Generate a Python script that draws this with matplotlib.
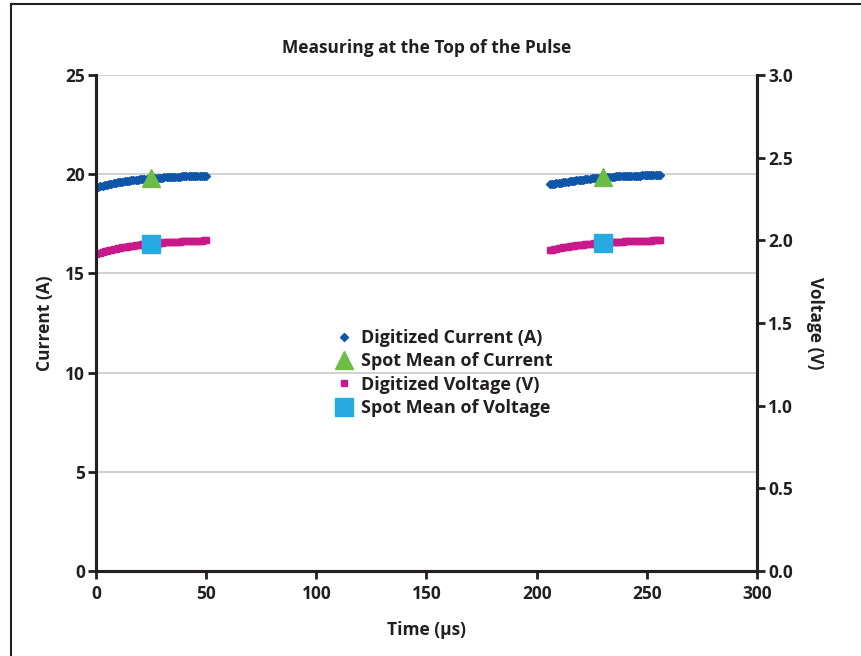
import matplotlib
matplotlib.use("Agg")
import matplotlib.pyplot as plt
from matplotlib.lines import Line2D
from matplotlib.ticker import FormatStrFormatter

plt.rcParams['font.family'] = ['Open Sans', 'DejaVu Sans']
plt.rcParams['font.weight'] = 'bold'

# time axis of the two captured pulses (us)
t1 = list(range(0, 51))
t2 = list(range(206, 257))

# digitized current (A), first and second pulse
cur1 = [19.30, 19.34, 19.38, 19.41, 19.44, 19.47, 19.50, 19.52, 19.55, 19.57,
        19.59, 19.61, 19.63, 19.65, 19.66, 19.68, 19.69, 19.71, 19.72, 19.73,
        19.74, 19.75, 19.76, 19.77, 19.78, 19.79, 19.80, 19.81, 19.82, 19.82,
        19.83, 19.84, 19.85, 19.85, 19.86, 19.87, 19.87, 19.88, 19.88, 19.89,
        19.89, 19.90, 19.90, 19.91, 19.91, 19.92, 19.92, 19.92, 19.93, 19.93,
        19.93]
cur2 = [19.49, 19.51, 19.53, 19.55, 19.56, 19.58, 19.60, 19.62, 19.63, 19.65,
        19.66, 19.68, 19.69, 19.71, 19.72, 19.73, 19.75, 19.76, 19.77, 19.79,
        19.80, 19.81, 19.82, 19.83, 19.84, 19.85, 19.86, 19.87, 19.87, 19.88,
        19.89, 19.89, 19.90, 19.90, 19.91, 19.91, 19.92, 19.92, 19.92, 19.93,
        19.93, 19.93, 19.94, 19.94, 19.94, 19.94, 19.95, 19.95, 19.95, 19.95,
        19.95]

# digitized voltage (V), first and second pulse
volt1 = [1.918, 1.922, 1.925, 1.929, 1.933, 1.937, 1.940, 1.943, 1.946, 1.949,
         1.952, 1.955, 1.957, 1.960, 1.962, 1.964, 1.966, 1.968, 1.970, 1.972,
         1.973, 1.975, 1.976, 1.978, 1.979, 1.980, 1.981, 1.983, 1.984, 1.985,
         1.986, 1.987, 1.988, 1.988, 1.989, 1.990, 1.991, 1.991, 1.992, 1.993,
         1.994, 1.994, 1.995, 1.995, 1.996, 1.997, 1.997, 1.998, 1.998, 1.999,
         1.999]
volt2 = [1.940, 1.943, 1.946, 1.949, 1.952, 1.954, 1.957, 1.959, 1.961, 1.963,
         1.965, 1.967, 1.969, 1.971, 1.972, 1.974, 1.975, 1.977, 1.978, 1.980,
         1.981, 1.982, 1.983, 1.984, 1.985, 1.986, 1.987, 1.988, 1.989, 1.989,
         1.990, 1.991, 1.991, 1.992, 1.993, 1.993, 1.994, 1.994, 1.995, 1.995,
         1.996, 1.996, 1.997, 1.997, 1.998, 1.998, 1.998, 1.999, 1.999, 2.000,
         2.000]

# spot means
spot_t = [25, 230]
spot_cur = [19.81, 19.86]
spot_volt = [1.978, 1.984]

blue = '#0f56a8'
green = '#6cbd45'
magenta = '#c8198a'
cyan = '#27aae1'
dark = '#231f20'

fig = plt.figure(figsize=(8.61, 6.56), dpi=100)
ax = fig.add_axes([0.1115, 0.1296, 0.7677, 0.7561])
ax2 = ax.twinx()

ax.plot(t1, cur1, ls='none', marker='D', ms=4.5, color=blue, mec=blue)
ax.plot(t2, cur2, ls='none', marker='D', ms=4.5, color=blue, mec=blue)
ax.plot(spot_t, spot_cur, ls='none', marker='^', ms=12.5, color=green, mec=green)

ax2.plot(t1, volt1, ls='none', marker='s', ms=5, color=magenta, mec=magenta)
ax2.plot(t2, volt2, ls='none', marker='s', ms=5, color=magenta, mec=magenta)
ax2.plot(spot_t, spot_volt, ls='none', marker='s', ms=13, color=cyan, mec=cyan)

ax.set_xlim(0, 300)
ax.set_ylim(0, 25)
ax2.set_ylim(0, 3.0)
ax.set_xticks([0, 50, 100, 150, 200, 250, 300])
ax.set_yticks([0, 5, 10, 15, 20, 25])
ax2.set_yticks([0, 0.5, 1.0, 1.5, 2.0, 2.5, 3.0])
ax2.yaxis.set_major_formatter(FormatStrFormatter('%.1f'))

ax.yaxis.grid(True, color='#c4c4c4', lw=1.1)
ax.set_axisbelow(True)

for a in (ax, ax2):
    a.spines['top'].set_visible(False)
    for s in ('left', 'right', 'bottom'):
        a.spines[s].set_color(dark)
        a.spines[s].set_linewidth(2.2)
    a.tick_params(colors=dark, width=2, length=6, labelsize=12.5, direction='out')
ax.tick_params(axis='x', pad=4)
ax.tick_params(axis='y', pad=2)
ax2.tick_params(axis='y', pad=2)

ax.set_title('Measuring at the Top of the Pulse', fontsize=12.5, fontweight='bold',
             color=dark, pad=16)
ax.set_xlabel('Time (\u00b5s)', fontsize=12.5, fontweight='bold', color=dark, labelpad=13)
ax.set_ylabel('Current (A)', fontsize=12.5, fontweight='bold', color=dark, labelpad=8)
ax2.set_ylabel('Voltage (V)', fontsize=12.5, fontweight='bold', color=dark,
               rotation=-90, labelpad=22)

handles = [
    Line2D([], [], ls='none', marker='D', ms=4.5, color=blue),
    Line2D([], [], ls='none', marker='^', ms=12.5, color=green),
    Line2D([], [], ls='none', marker='s', ms=5, color=magenta),
    Line2D([], [], ls='none', marker='s', ms=13, color=cyan),
]
labels = ['Digitized Current (A)', 'Spot Mean of Current',
          'Digitized Voltage (V)', 'Spot Mean of Voltage']
leg = ax2.legend(handles, labels, loc='upper left', bbox_to_anchor=(0.3585, 0.488),
                 frameon=False, fontsize=13, handlelength=1.2, handletextpad=0.35,
                 labelspacing=0.3, borderaxespad=0, borderpad=0, numpoints=1)
for txt in leg.get_texts():
    txt.set_color(dark)
    txt.set_fontweight('bold')

# outer box edge (top and left only)
fig.add_artist(Line2D([11 / 861, 1], [1 - 4 / 656, 1 - 4 / 656],
                      transform=fig.transFigure, color=dark, lw=1.5))
fig.add_artist(Line2D([11 / 861, 11 / 861], [0, 1 - 4 / 656],
                      transform=fig.transFigure, color=dark, lw=1.5))

fig.savefig('out.png', dpi=100)
